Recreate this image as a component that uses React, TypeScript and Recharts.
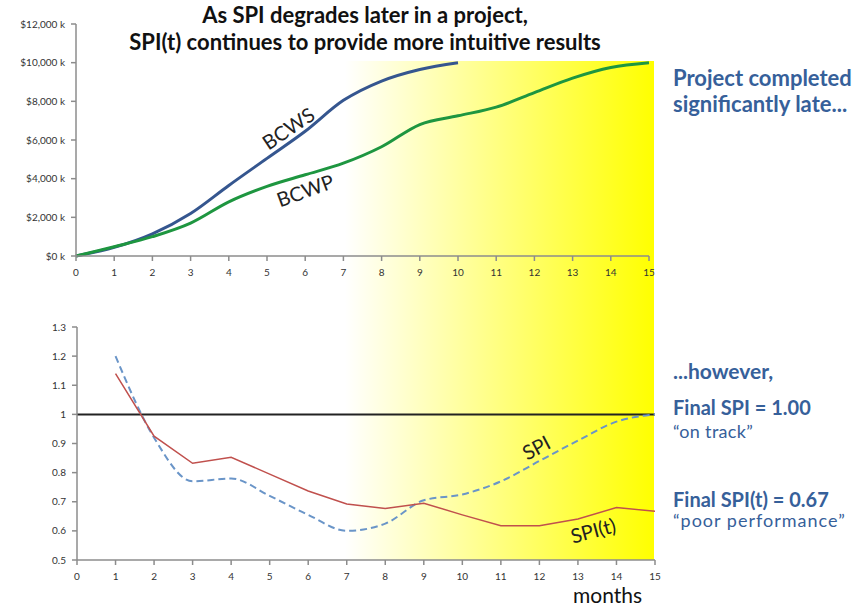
import React from 'react';
import {
  LineChart,
  Line,
  XAxis,
  YAxis,
  ReferenceLine,
} from 'recharts';

const months = [0, 1, 2, 3, 4, 5, 6, 7, 8, 9, 10, 11, 12, 13, 14, 15];
// planned value, $k (plan finishes in month 10)
const bcws = [0, 450, 1150, 2200, 3650, 5050, 6450, 8050, 9050, 9650, 10000, null, null, null, null, null];
// earned value, $k
const bcwp = [0, 480, 1000, 1700, 2800, 3600, 4200, 4800, 5650, 6800, 7250, 7700, 8450, 9200, 9750, 10000];
const spi = [null, 1.2, 0.92, 0.77, 0.78, 0.72, 0.655, 0.6, 0.625, 0.705, 0.725, 0.77, 0.84, 0.91, 0.975, 1.0];
const spiT = [null, 1.14, 0.925, 0.832, 0.853, 0.795, 0.737, 0.692, 0.677, 0.695, 0.655, 0.618, 0.618, 0.641, 0.68, 0.667];

const costTicks = [0, 2000, 4000, 6000, 8000, 10000, 12000];
const indexTicks = [0.5, 0.6, 0.7, 0.8, 0.9, 1.0, 1.1, 1.2, 1.3];

const costData = months.map((m, i) => ({ month: m, bcws: bcws[i], bcwp: bcwp[i] }));
const indexData = months.map((m, i) => ({ month: m, spi: spi[i], spiT: spiT[i] }));

const AXIS = '#8c8c8c';
const TICK = { fontSize: 10, fill: '#333', fontFamily: 'Lato, sans-serif' };
const BLUE_TEXT = '#36609a';

const fmtCost = (v: number) => `$${v.toLocaleString('en-US')} k`;
const fmtIndex = (v: number) => String(Number(v.toFixed(1)));

const Label = ({ x, y, angle, size, children }: any) => (
  <div
    style={{
      position: 'absolute',
      left: x,
      top: y,
      transform: `translate(-50%, -50%) rotate(${angle}deg)`,
      fontSize: size,
      color: '#222',
      whiteSpace: 'nowrap',
    }}
  >
    {children}
  </div>
);

const Text = ({ x, y, size, bold, color, spacing, children }: any) => (
  <div
    style={{
      position: 'absolute',
      left: x,
      top: y,
      fontSize: size,
      fontWeight: bold ? 700 : 400,
      color,
      letterSpacing: spacing || 0,
      whiteSpace: 'nowrap',
      lineHeight: 1,
    }}
  >
    {children}
  </div>
);

const titleStyle: React.CSSProperties = {
  position: 'absolute',
  left: 0,
  width: 730,
  textAlign: 'center',
  fontSize: 22,
  fontWeight: 700,
  color: '#111',
  lineHeight: 1,
  whiteSpace: 'nowrap',
};

export default function App() {
  return (
    <div
      style={{
        position: 'absolute',
        left: 0,
        top: 0,
        width: 855,
        height: 607,
        overflow: 'hidden',
        background: '#fff',
        fontFamily: 'Lato, sans-serif',
      }}
    >
      {/* late-project highlight behind both charts */}
      <div
        style={{
          position: 'absolute',
          left: 345,
          top: 61,
          width: 309,
          height: 499,
          background: 'linear-gradient(to right, #ffffff 0%, #ffff00 100%)',
        }}
      />

      <div style={{ ...titleStyle, top: 4 }}>As SPI degrades later in a project,</div>
      <div style={{ ...titleStyle, top: 31 }}>SPI(t) continues to provide more intuitive results</div>

      <LineChart
        width={700}
        height={280}
        data={costData}
        margin={{ top: 24, right: 51, bottom: 0, left: 0 }}
        style={{ position: 'absolute', left: 0, top: 0 }}
      >
        <XAxis
          dataKey="month"
          type="number"
          domain={[0, 15]}
          ticks={months}
          height={24}
          stroke={AXIS}
          strokeWidth={1.5}
          tickSize={5}
          tickMargin={8}
          tick={TICK}
          interval={0}
        />
        <YAxis
          type="number"
          domain={[0, 12000]}
          ticks={costTicks}
          width={76}
          stroke={AXIS}
          strokeWidth={1.5}
          tickSize={5}
          tickMargin={6}
          tick={TICK}
          tickFormatter={fmtCost}
        />
        <Line type="monotone" dataKey="bcws" stroke="#35568f" strokeWidth={3} dot={false} isAnimationActive={false} />
        <Line type="monotone" dataKey="bcwp" stroke="#1e9640" strokeWidth={3} dot={false} isAnimationActive={false} />
      </LineChart>

      <LineChart
        width={700}
        height={290}
        data={indexData}
        margin={{ top: 27, right: 45, bottom: 6, left: 0 }}
        style={{ position: 'absolute', left: 0, top: 300 }}
      >
        <XAxis
          dataKey="month"
          type="number"
          domain={[0, 15]}
          ticks={months}
          height={24}
          stroke={AXIS}
          strokeWidth={1.5}
          tickSize={5}
          tickMargin={8}
          tick={TICK}
          interval={0}
        />
        <YAxis
          type="number"
          domain={[0.5, 1.3]}
          ticks={indexTicks}
          width={77}
          stroke={AXIS}
          strokeWidth={1.5}
          tickSize={5}
          tickMargin={6}
          tick={TICK}
          tickFormatter={fmtIndex}
        />
        <ReferenceLine y={1} stroke="#222" strokeWidth={2} />
        <Line type="monotone" dataKey="spi" stroke="#6a95c8" strokeWidth={2} strokeDasharray="7 4" dot={false} isAnimationActive={false} />
        <Line type="linear" dataKey="spiT" stroke="#c0504d" strokeWidth={1.5} dot={false} isAnimationActive={false} />
      </LineChart>

      <Label x={288} y={128} angle={-34} size={20}>BCWS</Label>
      <Label x={305} y={190} angle={-20} size={20}>BCWP</Label>
      <Label x={536} y={447} angle={-28} size={20}>SPI</Label>
      <Label x={593} y={530} angle={-15} size={20}>SPI(t)</Label>

      <Text x={673} y={67} size={22} bold color={BLUE_TEXT}>Project completed</Text>
      <Text x={673} y={93} size={22} bold color={BLUE_TEXT}>significantly late...</Text>
      <Text x={673} y={360} size={21} bold color={BLUE_TEXT}>...however,</Text>
      <Text x={673} y={397} size={20} bold color={BLUE_TEXT}>Final SPI = 1.00</Text>
      <Text x={673} y={422} size={18} color={BLUE_TEXT} spacing={0.3}>“on track”</Text>
      <Text x={673} y={489} size={20} bold color={BLUE_TEXT}>Final SPI(t) = 0.67</Text>
      <Text x={673} y={511} size={18} color={BLUE_TEXT} spacing={1}>“poor performance”</Text>

      <Text x={573} y={584} size={21} color="#111">months</Text>
    </div>
  );
}
